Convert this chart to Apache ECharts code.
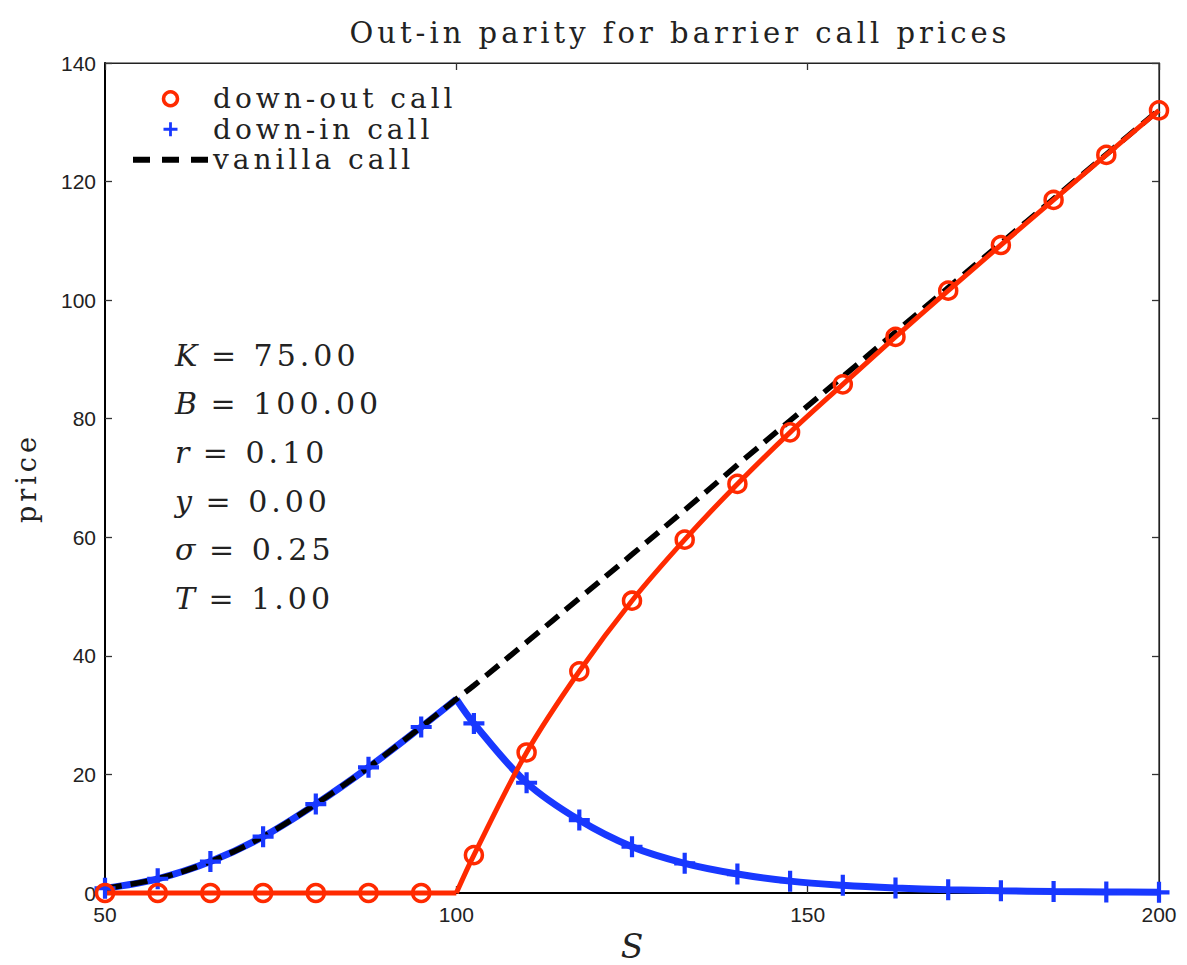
<!DOCTYPE html>
<html>
<head>
<meta charset="utf-8">
<script src="https://cdn.jsdelivr.net/npm/echarts@6/dist/echarts.min.js"></script>
<style>
html,body{margin:0;padding:0;background:#fff;}
#chart{width:1187px;height:965px;}
#chart text[style*="DejaVu Serif"]:not([style*="italic"]){letter-spacing:4px;}
</style>
</head>
<body>
<div id="chart"></div>
<script>
// ---- data ----
const spotPrices = [50, 57.5, 65, 72.5, 80, 87.5, 95, 102.5, 110, 117.5, 125, 132.5, 140, 147.5, 155, 162.5, 170, 177.5, 185, 192.5, 200];
const downOutCall = [0, 0, 0, 0, 0, 0, 0, 6.4, 23.7, 37.4, 49.3, 59.6, 69.0, 77.7, 85.8, 93.8, 101.6, 109.3, 116.9, 124.5, 132.0];
const downInCall  = [0.8, 2.4, 5.3, 9.5, 15.0, 21.2, 28.0, 28.6, 18.6, 12.3, 7.8, 5.0, 3.2, 2.0, 1.3, 0.85, 0.55, 0.37, 0.25, 0.17, 0.12];
const vanillaCall = [0.8, 2.4, 5.3, 9.5, 15.0, 21.2, 28.0, 35.0, 42.3, 49.7, 57.1, 64.6, 72.2, 79.7, 87.1, 94.6, 102.1, 109.6, 117.1, 124.6, 132.1];
const barrierLevel = 100;
const atBarrier = { downOut: 0, downIn: 32.7, vanilla: 32.7 };
const xTicks = { min: 50, max: 200, interval: 50 };
const yTicks = { min: 0, max: 140, interval: 20 };
const paramLines = [['K', '75.00'], ['B', '100.00'], ['r', '0.10'], ['y', '0.00'], ['σ', '0.25'], ['T', '1.00']];

// ---- build series points ----
const pts = (vals) => spotPrices.map((s, i) => [s, vals[i]]);
const below = (vals, bv) => spotPrices.map((s, i) => [s, vals[i]]).filter(p => p[0] < barrierLevel).concat([[barrierLevel, bv]]);
const above = (vals, bv) => [[barrierLevel, bv]].concat(spotPrices.map((s, i) => [s, vals[i]]).filter(p => p[0] > barrierLevel));
const vanillaPts = below(vanillaCall, atBarrier.vanilla).concat(above(vanillaCall, atBarrier.vanilla).slice(1));

const RED = '#ff2a00';
const BLUE = '#1838ff';
const PLUS = 'path://M4,0H6V4H10V6H6V10H4V6H0V4H4Z';
const SERIF = '"DejaVu Serif", "Liberation Serif", serif';
const SANS = '"Liberation Sans", Arial, sans-serif';

const chart = echarts.init(document.getElementById('chart'), null, { renderer: 'svg' });

const richText = paramLines.map(l => '{i|' + l[0] + '}{n| = ' + l[1] + '}').join('\n');

chart.setOption({
  animation: false,
  backgroundColor: '#fff',
  title: {
    text: 'Out-in parity for barrier call prices',
    left: 675, top: 13, textAlign: 'center',
    textStyle: { fontFamily: SERIF, fontSize: 29, fontWeight: 'normal', color: '#222' }
  },
  legend: {
    orient: 'vertical', left: 125, top: 79,
    itemWidth: 75, itemHeight: 14, itemGap: 1,
    selectedMode: false,
    textStyle: { fontFamily: SERIF, fontSize: 28, color: '#222', lineHeight: 29.5, padding: [0, 0, 0, 0] },
    data: [
      { name: 'down-out call', icon: 'circle', itemStyle: { color: 'rgba(0,0,0,0)', borderColor: RED, borderWidth: 3.5 } },
      { name: 'down-in call', icon: PLUS, itemStyle: { color: BLUE, borderWidth: 0 } },
      { name: 'vanilla call', itemStyle: { color: 'rgba(0,0,0,0)', opacity: 0, borderWidth: 0 },
        lineStyle: { color: '#000', width: 6, type: [17, 12], opacity: 1 } }
    ]
  },
  grid: { left: 105, right: 28, top: 63, bottom: 72, containLabel: false, outerBoundsMode: 'none',
          show: true, borderColor: '#222', borderWidth: 1.2, backgroundColor: '#fff' },
  xAxis: [
    { type: 'value', min: xTicks.min, max: xTicks.max, interval: xTicks.interval, position: 'bottom',
      name: 'S', nameLocation: 'middle', nameGap: 30,
      nameTextStyle: { fontFamily: SERIF, fontStyle: 'italic', fontSize: 33, lineHeight: 33, color: '#222' },
      axisLine: { show: true, onZero: false, lineStyle: { color: '#000', width: 2 } },
      axisTick: { show: true, inside: true, length: 7, lineStyle: { color: '#333', width: 1.3 } },
      axisLabel: { fontFamily: SANS, fontSize: 21, color: '#222', margin: 11 },
      splitLine: { show: false } },
    { type: 'value', min: xTicks.min, max: xTicks.max, interval: xTicks.interval, position: 'top',
      axisLine: { show: true, onZero: false, lineStyle: { color: '#222', width: 1.2 } },
      axisTick: { show: true, inside: true, length: 7, lineStyle: { color: '#333', width: 1.3 } },
      axisLabel: { show: false }, splitLine: { show: false } }
  ],
  yAxis: [
    { type: 'value', min: yTicks.min, max: yTicks.max, interval: yTicks.interval, position: 'left',
      name: 'price', nameLocation: 'middle', nameGap: 65, nameRotate: 90,
      nameTextStyle: { fontFamily: SERIF, fontSize: 27, color: '#222' },
      axisLine: { show: true, onZero: false, lineStyle: { color: '#000', width: 2 } },
      axisTick: { show: true, inside: true, length: 7, lineStyle: { color: '#333', width: 1.3 } },
      axisLabel: { fontFamily: SANS, fontSize: 21, color: '#222', margin: 9 },
      splitLine: { show: false } },
    { type: 'value', min: yTicks.min, max: yTicks.max, interval: yTicks.interval, position: 'right',
      axisLine: { show: true, onZero: false, lineStyle: { color: '#222', width: 1.2 } },
      axisTick: { show: true, inside: true, length: 7, lineStyle: { color: '#333', width: 1.3 } },
      axisLabel: { show: false }, splitLine: { show: false } }
  ],
  graphic: [{
    type: 'text', left: 175, top: 331, z: 100,
    style: {
      text: richText,
      fill: '#222',
      font: '30px ' + SERIF,
      lineHeight: 48.6,
      rich: {
        i: { fontFamily: SERIF, fontStyle: 'italic', fontSize: 30, lineHeight: 48.6, fill: '#222' },
        n: { fontFamily: SERIF, fontSize: 30, lineHeight: 48.6, fill: '#222' }
      }
    }
  }],
  series: [
    { name: 'din-left', type: 'line', data: below(downInCall, atBarrier.downIn), smooth: 0.35, symbol: 'none',
      lineStyle: { color: BLUE, width: 7 }, z: 2, clip: false, silent: true },
    { name: 'din-right', type: 'line', data: above(downInCall, atBarrier.downIn), smooth: 0.35, symbol: 'none',
      lineStyle: { color: BLUE, width: 7 }, z: 2, clip: false, silent: true },
    { name: 'vanilla call', type: 'line', data: vanillaPts, smooth: 0.35, symbol: 'none',
      itemStyle: { color: '#000' },
      lineStyle: { color: '#000', width: 5.5, type: [17, 9], cap: 'butt' }, z: 3, clip: false, silent: true },
    { name: 'dout-flat', type: 'line', data: below(downOutCall, atBarrier.downOut), symbol: 'none',
      lineStyle: { color: RED, width: 5 }, z: 4, clip: false, silent: true },
    { name: 'dout-rise', type: 'line', data: above(downOutCall, atBarrier.downOut), smooth: 0.35, symbol: 'none',
      lineStyle: { color: RED, width: 5 }, z: 4, clip: false, silent: true },
    { name: 'down-in call', type: 'scatter', data: pts(downInCall), symbol: PLUS, symbolSize: 21,
      itemStyle: { color: BLUE, opacity: 1 }, z: 5, clip: false, silent: true },
    { name: 'down-out call', type: 'scatter', data: pts(downOutCall), symbol: 'circle', symbolSize: 17,
      itemStyle: { color: 'rgba(0,0,0,0)', borderColor: RED, borderWidth: 3.5, opacity: 1 }, z: 6, clip: false, silent: true }
  ]
});
</script>
</body>
</html>
